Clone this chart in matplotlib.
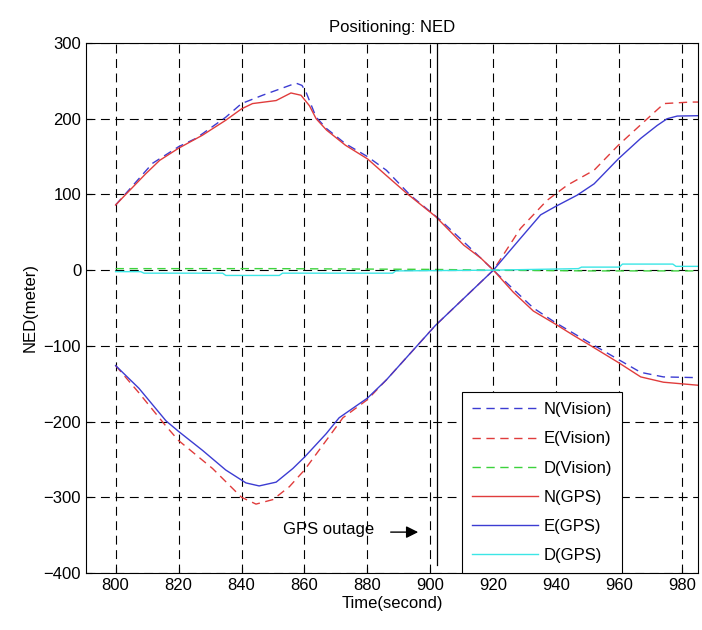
import matplotlib
matplotlib.use("Agg")
import matplotlib.pyplot as plt

plt.rcParams['font.family'] = ['Liberation Sans', 'DejaVu Sans']

# ---- data ----
t_n_gps = [800, 803, 809.5, 814, 820, 827.5, 835, 840, 843.5, 851, 855.7, 858.9, 861.6, 863.7, 867, 873,
           880, 886, 892.6, 901.6, 910.6, 916, 920, 926.3, 932.7, 939.6, 945.4, 951, 959.7, 966.8, 974, 985]
n_gps = [86, 99, 127, 145, 161, 178, 198, 213, 220, 224, 234, 231, 217, 200, 185, 165,
         147, 125, 101, 71, 33, 16, 0, -29, -54, -71, -86, -100, -122, -141, -148, -152]

t_n_vis = [800, 811.7, 820, 825.5, 835, 840, 846.7, 854, 857.3, 859.2, 860.5, 863.7, 867, 873, 880, 886,
           893.6, 903.2, 911.7, 920, 926.3, 932.7, 939.6, 951, 959.7, 966.8, 974, 985]
n_vis = [86, 141, 163, 174, 202, 220, 231, 242, 247, 244, 235, 202, 187, 167, 150, 132,
         99, 66, 33, 0, -25, -50, -69, -97, -118, -135, -141, -142]

t_e_gps = [800, 807.4, 816, 820, 827.6, 835, 841.4, 845.6, 851, 856.3, 860, 866.9, 871, 880, 886, 901.6,
           920, 928.6, 935, 939.7, 946.6, 952, 959.7, 966.8, 972, 975.2, 978.4, 985]
e_gps = [-126, -156, -199, -213, -238, -264, -281, -285, -280, -262, -247, -216, -195, -169, -145, -73,
         0, 42, 73, 84, 99, 114, 147, 174, 191, 200, 203.5, 204]

t_e_vis = [800, 807.4, 816, 820, 830.8, 840, 844.6, 850, 855.2, 860, 866.9, 872.2, 880, 886, 901.6,
           920, 928.6, 937, 943.4, 952, 959.7, 968.9, 974.2, 982.7, 985]
e_vis = [-126, -162, -206, -225, -262, -300, -309, -303, -286, -264, -225, -195, -171, -145, -73,
         0, 55, 92, 112, 132, 165, 200, 220, 222, 222]

t_d_vis = [800, 850, 900, 920, 950, 985]
d_vis = [2, 2, 1, 0, -1, -1]

t_d_gps = [800, 808, 809, 834, 835, 852, 853, 888, 889, 920, 947, 948, 960, 961, 977, 978, 985]
d_gps = [-2, -2, -4, -4, -7, -7, -4, -4, -1, 0, 2, 4, 4, 8, 8, 5, 5]

outage_time = 902
x_ticks = list(range(800, 981, 20))
y_ticks = list(range(-400, 301, 100))

# ---- figure ----
fig = plt.figure(figsize=(7.02, 6.30), dpi=100)
ax = fig.add_axes([86 / 702, 1 - 573 / 630, 612 / 702, 530 / 630])

blue = '#3c3cd2'
red = '#e03c3c'
green = '#3cd23c'
cyan = '#3ce6e6'
dash = (0, (6, 4))

ax.plot(t_n_vis, n_vis, color=blue, lw=1.0, linestyle=dash, label='N(Vision)')
ax.plot(t_e_vis, e_vis, color=red, lw=1.0, linestyle=dash, label='E(Vision)')
ax.plot(t_d_vis, d_vis, color=green, lw=1.0, linestyle=dash, label='D(Vision)')
ax.plot(t_n_gps, n_gps, color=red, lw=1.0, label='N(GPS)')
ax.plot(t_e_gps, e_gps, color=blue, lw=1.0, label='E(GPS)')
ax.plot(t_d_gps, d_gps, color=cyan, lw=1.0, label='D(GPS)')

# GPS outage marker
ax.plot([outage_time, outage_time], [300, -390], color='black', lw=0.9)
ax.text(882, -342, 'GPS outage', ha='right', va='center', fontsize=12)
ax.annotate('', xy=(897, -346), xytext=(886.5, -346),
            arrowprops=dict(arrowstyle='-|>', color='black', lw=1.0, mutation_scale=18))

ax.set_xlim(790.6, 985)
ax.set_ylim(-400, 300)
ax.set_xticks(x_ticks)
ax.set_yticks(y_ticks)
ax.tick_params(direction='in', labelsize=12, length=4)
ax.grid(True, color='black', linestyle=(0, (8, 5)), lw=0.8)
for s in ax.spines.values():
    s.set_linewidth(0.8)

ax.set_title('Positioning: NED', fontsize=12, pad=8)
ax.set_xlabel('Time(second)', fontsize=12, labelpad=2)
ax.set_ylabel('NED(meter)', fontsize=12, labelpad=4)

leg = ax.legend(loc='lower left', bbox_to_anchor=(0.614, 0.0), borderaxespad=0,
                fontsize=12, handlelength=4.0, labelspacing=0.85, fancybox=False,
                framealpha=1, edgecolor='black', borderpad=0.6, handletextpad=0.3)
leg.get_frame().set_linewidth(0.8)

fig.savefig('out.png', dpi=100)
